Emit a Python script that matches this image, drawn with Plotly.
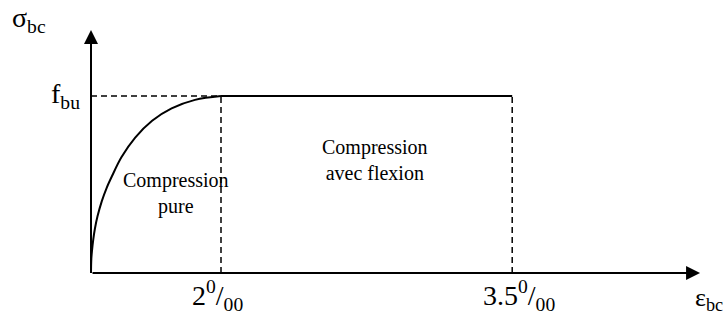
import plotly.graph_objects as go

# ---- data (schematic strain axis, stress as fraction of f_bu) ----
curve_eps = [0.0, 0.005, 0.015, 0.035, 0.06, 0.1, 0.165, 0.24, 0.32, 0.47, 0.68,
             0.94, 1.24, 1.6, 2.0]
curve_sig = [0.0, 0.08, 0.125, 0.19, 0.25, 0.32, 0.405, 0.48, 0.545, 0.655, 0.765,
             0.86, 0.93, 0.978, 1.0]
plateau_eps = [2.0, 6.48]
plateau_sig = [1.0, 1.0]
fbu_level = 1.0
strain_tick_pos = [2.0, 6.48]
strain_tick_text = ["2<sup>0</sup>/<sub>00</sub>", "3.5<sup>0</sup>/<sub>00</sub>"]
axis_x_end = 9.37
axis_y_end = 1.373
region_labels = ["Compression<br>pure", "Compression<br>avec flexion"]

FONT = "Liberation Serif"
BLACK = "#000000"

fig = go.Figure()

# ascending branch
fig.add_trace(go.Scatter(x=curve_eps, y=curve_sig, mode="lines",
                         line=dict(color=BLACK, width=2, shape="spline", smoothing=1.0),
                         hoverinfo="skip", showlegend=False, cliponaxis=False))
# plateau
fig.add_trace(go.Scatter(x=plateau_eps, y=plateau_sig, mode="lines",
                         line=dict(color=BLACK, width=2),
                         hoverinfo="skip", showlegend=False, cliponaxis=False))

dash = "6px,4px"
shapes = [
    dict(type="line", xref="x", yref="y", x0=0, y0=fbu_level, x1=strain_tick_pos[0], y1=fbu_level,
         line=dict(color=BLACK, width=1.5, dash=dash)),
]
for xp in strain_tick_pos:
    shapes.append(dict(type="line", xref="x", yref="y", x0=xp, y0=0, x1=xp, y1=fbu_level,
                       line=dict(color=BLACK, width=1.5, dash=dash)))

ann = []
# axes as arrows
ann.append(dict(x=axis_x_end, y=0, ax=0, ay=0, xref="x", yref="y", axref="x", ayref="y",
                showarrow=True, arrowhead=2, arrowsize=1.4, arrowwidth=2, arrowcolor=BLACK,
                standoff=0, text=""))
ann.append(dict(x=0, y=axis_y_end, ax=0, ay=0, xref="x", yref="y", axref="x", ayref="y",
                showarrow=True, arrowhead=2, arrowsize=1.4, arrowwidth=2, arrowcolor=BLACK,
                standoff=0, text=""))

# tick labels
for xp, t in zip(strain_tick_pos, strain_tick_text):
    ann.append(dict(x=xp, y=0, xref="x", yref="y", text=t, showarrow=False,
                    xanchor="left", yanchor="middle", xshift=-31, yshift=-22,
                    font=dict(family=FONT, size=28, color=BLACK)))

# axis titles
ann.append(dict(x=-1.24, y=1.43, xref="x", yref="y", text="σ<sub>bc</sub>", showarrow=False,
                xanchor="left", yanchor="middle", font=dict(family=FONT, size=28, color=BLACK)))
ann.append(dict(x=0, y=fbu_level, xref="x", yref="y", text="f<sub>bu</sub>", showarrow=False,
                xanchor="right", yanchor="middle", xshift=-9, yshift=1,
                font=dict(family=FONT, size=28, color=BLACK)))
ann.append(dict(x=axis_x_end, y=0, xref="x", yref="y", text="ε<sub>bc</sub>", showarrow=False,
                xanchor="left", yanchor="middle", xshift=-7, yshift=-26,
                font=dict(family=FONT, size=26, color=BLACK)))

# region labels
ann.append(dict(x=1.31, y=0.45, xref="x", yref="y", text=region_labels[0], showarrow=False,
                xanchor="center", yanchor="middle", font=dict(family=FONT, size=20, color=BLACK)))
ann.append(dict(x=4.37, y=0.64, xref="x", yref="y", text=region_labels[1], showarrow=False,
                xanchor="center", yanchor="middle", font=dict(family=FONT, size=20, color=BLACK)))

# full-figure plot area: pixel mapping X=(px-91)/65, Y=(273-py)/177
fig.update_layout(
    width=728, height=315,
    margin=dict(l=0, r=0, t=0, b=0),
    paper_bgcolor="white", plot_bgcolor="white",
    xaxis=dict(range=[-91/65, (728-91)/65], visible=False, fixedrange=True),
    yaxis=dict(range=[(273-315)/177, 273/177], visible=False, fixedrange=True),
    shapes=shapes, annotations=ann, showlegend=False,
)

fig.write_html("out.html", config={"displayModeBar": False},
               post_script="document.body.style.margin='0';document.body.style.overflow='hidden';")
